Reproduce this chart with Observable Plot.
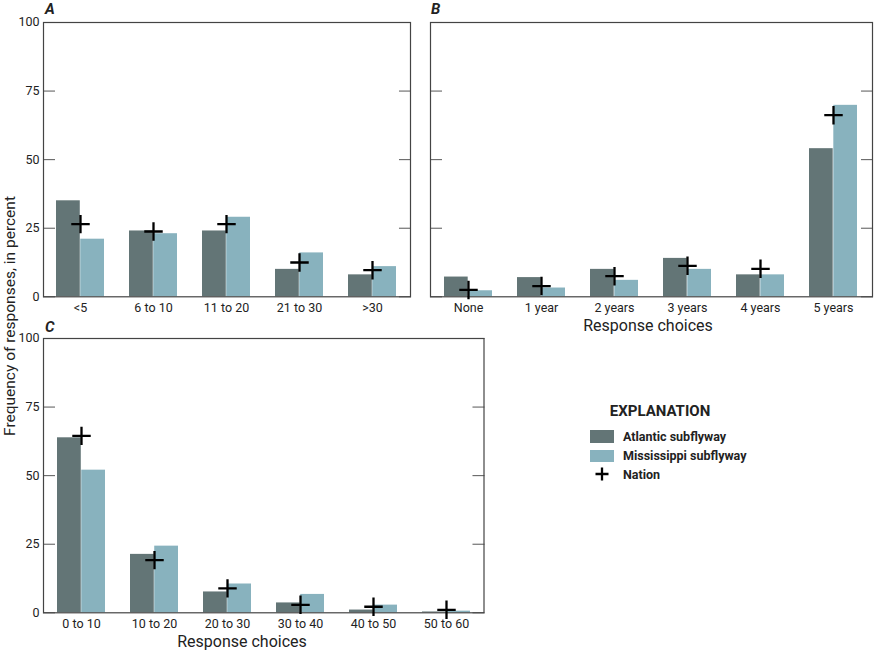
<!DOCTYPE html>
<html>
<head>
<meta charset="utf-8">
<script src="https://cdn.jsdelivr.net/npm/d3@7"></script>
<script src="https://cdn.jsdelivr.net/npm/@observablehq/plot@0.6"></script>
<style>
  body { margin: 0; background: #fff; }
  #root { position: relative; width: 874px; height: 651px; overflow: hidden;
          font-family: "Liberation Sans Narrow", "Arial Narrow", "Roboto", sans-serif; color: #222; }
  .abs { position: absolute; }
  .ctr { position: absolute; transform: translate(-50%, -50%); white-space: nowrap; }
  .letter { position: absolute; font-weight: bold; font-style: italic; font-size: 15px; line-height: 1; }
  .axt { font-size: 16px; }
  .leg { font-weight: bold; font-size: 12.5px; white-space: nowrap; }
</style>
</head>
<body>
<div id="root"></div>
<script>
// ---------- data ----------
const seriesNames = ["Atlantic subflyway", "Mississippi subflyway", "Nation"];
const yTicks = [0, 25, 50, 75, 100];

const catsA = ["<5", "6 to 10", "11 to 20", "21 to 30", ">30"];
const atlA = [35, 24, 24, 10, 8];
const misA = [21, 23, 29, 16, 11];
const natA = [26.5, 23.8, 26.5, 12.5, 9.7];

const catsB = ["None", "1 year", "2 years", "3 years", "4 years", "5 years"];
const atlB = [7.2, 7, 10, 14, 8, 54];
const misB = [2.2, 3.2, 6, 10, 8, 69.8];
const natB = [2.5, 3.9, 7.5, 11.3, 10.2, 66.2];

const catsC = ["0 to 10", "10 to 20", "20 to 30", "30 to 40", "40 to 50", "50 to 60"];
const atlC = [63.8, 21.3, 7.6, 3.6, 1, 0.3];
const misC = [52, 24.3, 10.5, 6.7, 2.8, 0.6];
const natC = [64.5, 19.2, 8.9, 2.9, 2.2, 1.1];

// ---------- styles ----------
const ATL = "#637576";
const MIS = "#88b2be";
const FONT = "\"Liberation Sans Narrow\", \"Arial Narrow\", Roboto, sans-serif";
const PI = 0.34, PO = 0.17;

const root = document.getElementById("root");

function panel({cats, atl, mis, nat, frameLeft, frameTop, frameW, yLabels}) {
  const mL = 43, mR = 2, mT = 22, mB = 26, fh = 274.3;
  const data = cats.map((c, i) => ({cat: c, atl: atl[i], mis: mis[i], nat: nat[i]}));
  const step = frameW / cats.length;
  const half = step * (1 - PI) / 2;
  const svg = Plot.plot({
    width: mL + frameW + mR,
    height: mT + fh + mB,
    marginLeft: mL, marginRight: mR, marginTop: mT, marginBottom: mB,
    style: {background: "transparent", fontFamily: FONT, fontSize: "12.5px", color: "#222", overflow: "visible"},
    x: {type: "band", domain: cats, paddingInner: PI, paddingOuter: PO, label: null},
    y: {domain: [0, 100], label: null},
    marks: [
      Plot.barY(data, {x: "cat", y: "atl", fill: ATL, insetRight: half}),
      Plot.barY(data, {x: "cat", y: "mis", fill: MIS, insetLeft: half}),
      Plot.axisX({tickSize: 0, tickPadding: 6, label: null}),
      Plot.axisY({ticks: yTicks, tickSize: 0, tickPadding: 4, label: null,
                  tickFormat: yLabels ? (d => String(d)) : (() => "")}),
      Plot.axisY({ticks: yTicks, tickSize: 12, dx: 12, tickFormat: () => "", label: null, stroke: "#555"}),
      Plot.axisY({anchor: "right", ticks: yTicks, tickSize: 12, dx: -12, tickFormat: () => "", label: null, stroke: "#555"}),
      Plot.frame({stroke: "#444", strokeWidth: 1.2}),
      Plot.dot(data, {x: "cat", y: "nat", symbol: "plus", r: 6, stroke: "black", strokeWidth: 2.3})
    ]
  });
  const wrap = document.createElement("div");
  wrap.className = "abs";
  wrap.style.left = (frameLeft - mL) + "px";
  wrap.style.top = (frameTop - mT) + "px";
  wrap.appendChild(svg);
  root.appendChild(wrap);
}

panel({cats: catsA, atl: atlA, mis: misA, nat: natA, frameLeft: 43, frameTop: 22, frameW: 367, yLabels: true});
panel({cats: catsB, atl: atlB, mis: misB, nat: natB, frameLeft: 430, frameTop: 22, frameW: 442, yLabels: false});
panel({cats: catsC, atl: atlC, mis: misC, nat: natC, frameLeft: 43, frameTop: 338.3, frameW: 440.5, yLabels: true});

function addText(html, cls, x, y, extra) {
  const d = document.createElement("div");
  d.className = cls;
  d.style.left = x + "px";
  d.style.top = y + "px";
  if (extra) Object.assign(d.style, extra);
  d.textContent = html;
  root.appendChild(d);
  return d;
}

// panel letters
addText("A", "letter", 45, 2);
addText("B", "letter", 431, 2);
addText("C", "letter", 45, 320);

// axis titles
addText("Response choices", "ctr axt", 648, 325);
addText("Response choices", "ctr axt", 242, 641);
addText("Frequency of responses, in percent", "ctr axt", 10, 316,
        {transform: "translate(-50%, -50%) rotate(-90deg)", fontSize: "15.5px"});

// legend
addText("EXPLANATION", "ctr", 660, 411, {fontWeight: "bold", fontSize: "15px"});
const sw = [[ATL, 430], [MIS, 449.5]];
sw.forEach(([c, t], i) => {
  const s = document.createElement("div");
  s.className = "abs";
  Object.assign(s.style, {left: "590px", top: t + "px", width: "24px", height: "12.5px", background: c});
  root.appendChild(s);
  addText(seriesNames[i], "abs leg", 623, t - 1.5);
});
const ns = "http://www.w3.org/2000/svg";
const plus = document.createElementNS(ns, "svg");
plus.setAttribute("width", "16"); plus.setAttribute("height", "16");
plus.style.position = "absolute"; plus.style.left = "594px"; plus.style.top = "466px";
plus.innerHTML = '<path d="M1.5,8H14.5M8,1.5V14.5" stroke="black" stroke-width="2.3" fill="none"/>';
root.appendChild(plus);
addText(seriesNames[2], "abs leg", 623, 466.5);
</script>
</body>
</html>
